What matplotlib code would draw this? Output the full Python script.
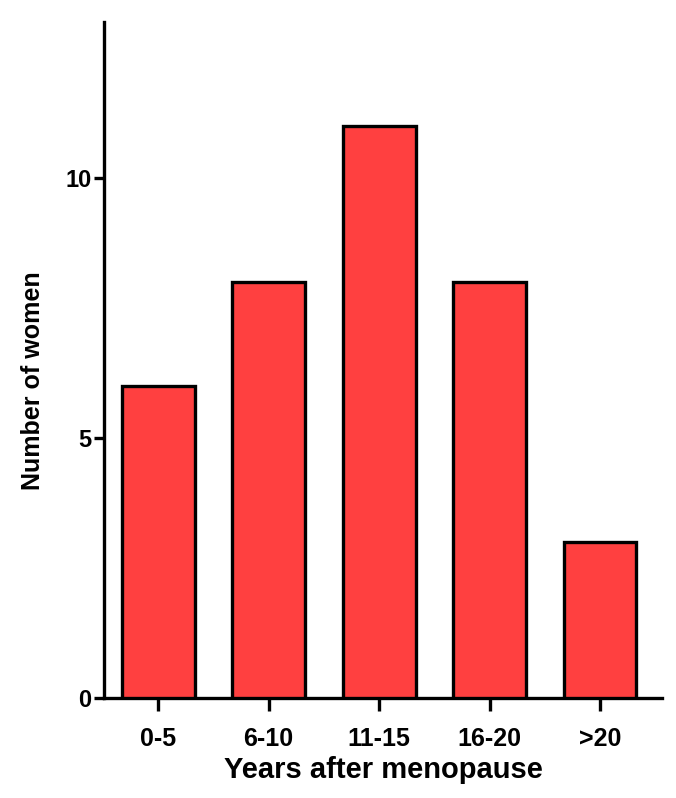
import matplotlib
matplotlib.use("Agg")
import matplotlib.pyplot as plt

categories = ["0-5", "6-10", "11-15", "16-20", ">20"]
counts = [6, 8, 11, 8, 3]
y_ticks = [0, 5, 10]

plt.rcParams["font.family"] = ["Liberation Sans", "DejaVu Sans"]
plt.rcParams["font.weight"] = "bold"

fig = plt.figure(figsize=(6.76, 7.98), dpi=100)
ax = fig.add_axes([0.154, 0.125, 0.825, 0.848])

x = list(range(len(categories)))
ax.bar(x, counts, width=0.66, color="#FF4040", edgecolor="black", linewidth=2.4, zorder=3)

ax.set_xlim(-0.49, 4.56)
ax.set_ylim(0, 13)
ax.set_xticks(x)
ax.set_xticklabels(categories, fontsize=18, fontweight="bold")
ax.set_yticks(y_ticks)
ax.set_yticklabels([str(v) for v in y_ticks], fontsize=17, fontweight="bold")

for side in ["top", "right"]:
    ax.spines[side].set_visible(False)
for side in ["left", "bottom"]:
    ax.spines[side].set_linewidth(2.4)
ax.tick_params(axis="x", width=2.4, length=9, pad=12)
ax.tick_params(axis="y", width=2.4, length=7, pad=2)

ax.set_xlabel("Years after menopause", fontsize=21, fontweight="bold", labelpad=3)
ax.set_ylabel("Number of women", fontsize=18, fontweight="bold")
ax.yaxis.set_label_coords(-0.106, 0.469)

fig.savefig("out.png", dpi=100)
